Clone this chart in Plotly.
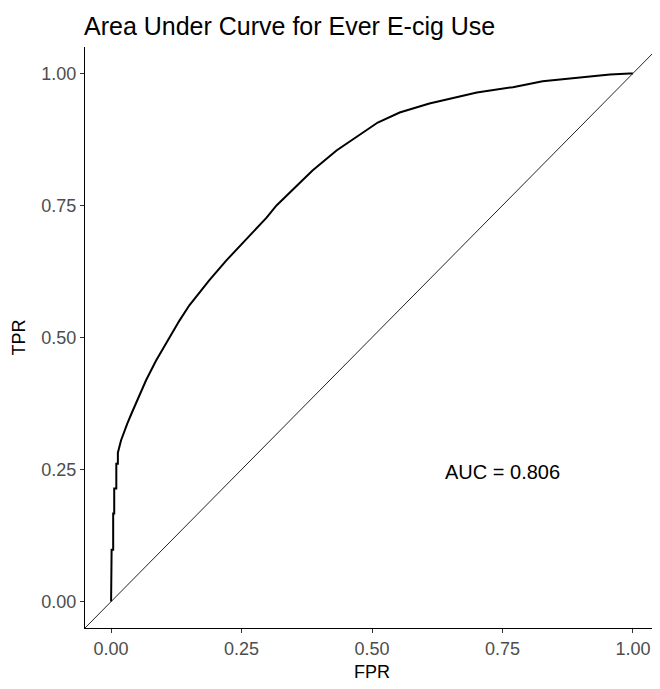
import plotly.graph_objects as go

# ROC curve points
fpr = [0.000, 0.001, 0.004, 0.004, 0.006, 0.006, 0.010, 0.010, 0.013, 0.013,
       0.019, 0.025, 0.031, 0.040, 0.054, 0.067, 0.086, 0.106, 0.131, 0.150,
       0.169, 0.188, 0.221, 0.259, 0.298, 0.317, 0.361, 0.386, 0.432, 0.461,
       0.489, 0.511, 0.553, 0.610, 0.701, 0.770, 0.827, 0.904, 0.956, 0.994, 1.000]
tpr = [0.000, 0.098, 0.098, 0.167, 0.167, 0.214, 0.214, 0.261, 0.261, 0.282,
       0.305, 0.322, 0.337, 0.358, 0.390, 0.419, 0.456, 0.491, 0.532, 0.561,
       0.585, 0.608, 0.646, 0.686, 0.727, 0.750, 0.792, 0.816, 0.854, 0.873,
       0.893, 0.907, 0.926, 0.943, 0.964, 0.974, 0.985, 0.992, 0.998, 1.000, 1.000]

tick_vals = [0.00, 0.25, 0.50, 0.75, 1.00]
tick_text = ["0.00", "0.25", "0.50", "0.75", "1.00"]
axis_range = [-0.05, 1.05]
auc_label = "AUC = 0.806"
auc_pos = (0.75, 0.245)
title_text = "Area Under Curve for Ever E-cig Use"

# the page body adds an 8px margin, so the figure is sized to fit the window
W, H = 652, 681
FONT = "Liberation Sans, Arial, sans-serif"

fig = go.Figure()

fig.add_trace(go.Scatter(x=fpr, y=tpr, mode="lines",
                         line=dict(color="black", width=2), showlegend=False,
                         hoverinfo="skip"))

# abline slope 1 intercept 0 across the panel
fig.add_shape(type="line", xref="x", yref="y",
              x0=axis_range[0], y0=axis_range[0], x1=axis_range[1], y1=axis_range[1],
              line=dict(color="#222222", width=1))

fig.add_annotation(x=auc_pos[0], y=auc_pos[1], text=auc_label, showarrow=False,
                   font=dict(family=FONT, size=20, color="black"),
                   xanchor="center", yanchor="middle")

axis_common = dict(range=axis_range, tickvals=tick_vals, ticktext=tick_text,
                   showgrid=False, zeroline=False, showline=True,
                   linecolor="black", linewidth=1.3, automargin=False,
                   ticks="outside", ticklen=4, tickcolor="#333333", tickwidth=1.3,
                   tickfont=dict(family=FONT, size=18, color="#4D4D4D"))

fig.update_layout(
    width=W, height=H,
    margin=dict(l=77, r=1, t=39, b=61),
    plot_bgcolor="white", paper_bgcolor="white",
    title=dict(text=title_text, x=76 / W, xref="container", xanchor="left",
               y=1 - 18 / H, yref="container", yanchor="middle",
               font=dict(family=FONT, size=25, color="black")),
    xaxis=dict(**axis_common,
               title=dict(text="FPR", standoff=7,
                          font=dict(family=FONT, size=18, color="black"))),
    yaxis=dict(**axis_common,
               title=dict(text="TPR", standoff=10,
                          font=dict(family=FONT, size=18, color="black"))),
)

fig.write_html("out.html")
